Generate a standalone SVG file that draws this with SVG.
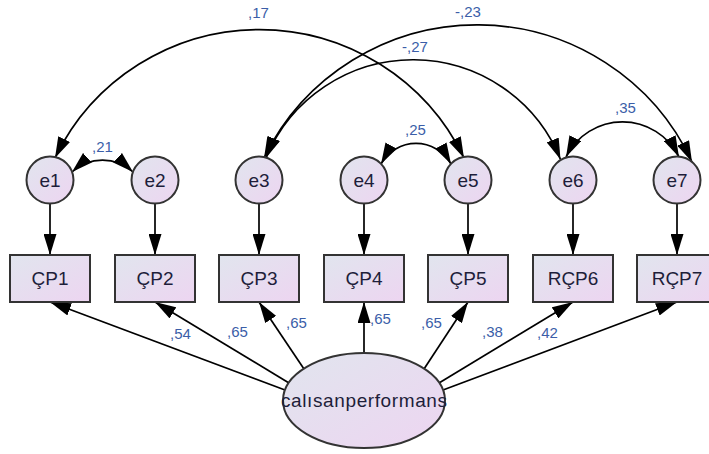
<svg xmlns="http://www.w3.org/2000/svg" width="709" height="454" viewBox="0 0 709 454">
  <defs>
    <linearGradient id="fillGrad" x1="0" y1="0" x2="1" y2="1">
      <stop offset="0" stop-color="#e1e5ee"/>
      <stop offset="1" stop-color="#edd5f1"/>
    </linearGradient>
    <marker id="head" viewBox="0 0 21 13" refX="21" refY="6.5" markerWidth="21" markerHeight="13" markerUnits="userSpaceOnUse" orient="auto-start-reverse">
      <path d="M0,0 L21,6.5 L0,13 z" fill="#000"/>
    </marker>
    <style>
      .node { fill: url(#fillGrad); stroke: #333; stroke-width: 2; }
      .label { font-family: "Liberation Sans", Arial, sans-serif; font-size: 19px; fill: #1e1e3a; text-anchor: middle; }
      .coef { font-family: "Liberation Sans", Arial, sans-serif; font-size: 15px; fill: #3b5ea8; }
      .path { fill: none; stroke: #000; stroke-width: 1.7; marker-end: url(#head); }
      .cov { fill: none; stroke: #000; stroke-width: 1.7; marker-start: url(#head); marker-end: url(#head); }
    </style>
  </defs>

  <!-- connectors -->
  <g id="connectors">
    <!-- error terms to indicators -->
    <line class="path" x1="50" y1="203.5" x2="50" y2="255"/>
    <line class="path" x1="155" y1="203.5" x2="155" y2="255"/>
    <line class="path" x1="259" y1="203.5" x2="259" y2="255"/>
    <line class="path" x1="364" y1="203.5" x2="364" y2="255"/>
    <line class="path" x1="468" y1="203.5" x2="468" y2="255"/>
    <line class="path" x1="573" y1="203.5" x2="573" y2="255"/>
    <line class="path" x1="677" y1="203.5" x2="677" y2="255"/>

    <!-- latent factor loadings -->
    <line class="path" x1="285" y1="390" x2="50" y2="302"/>
    <line class="path" x1="289" y1="383" x2="155" y2="302"/>
    <line class="path" x1="304" y1="369" x2="259" y2="302"/>
    <line class="path" x1="364" y1="353" x2="364" y2="302"/>
    <line class="path" x1="424" y1="369" x2="468" y2="302"/>
    <line class="path" x1="439" y1="383" x2="573" y2="302"/>
    <line class="path" x1="443" y1="390" x2="677" y2="302"/>

    <!-- error covariances -->
    <path class="cov" d="M55,158 A227,227 0 0 1 464,158"/>
    <path class="cov" d="M264,158 A237,237 0 0 1 692,162"/>
    <path class="cov" d="M266,158 A159,159 0 0 1 560.5,159.5"/>
    <path class="cov" d="M72,172 A45,45 0 0 1 133,172"/>
    <path class="cov" d="M381,164 A40,40 0 0 1 451,164"/>
    <path class="cov" d="M566,157 A63,63 0 0 1 679,157"/>

    <!-- coefficients -->
    <text class="coef" x="248" y="18">,17</text>
    <text class="coef" x="455" y="17">-,23</text>
    <text class="coef" x="402" y="52">-,27</text>
    <text class="coef" x="92" y="152">,21</text>
    <text class="coef" x="405" y="135">,25</text>
    <text class="coef" x="615" y="113">,35</text>
    <text class="coef" x="170" y="339">,54</text>
    <text class="coef" x="227" y="337">,65</text>
    <text class="coef" x="286" y="328">,65</text>
    <text class="coef" x="370" y="324">,65</text>
    <text class="coef" x="421" y="328">,65</text>
    <text class="coef" x="482" y="337">,38</text>
    <text class="coef" x="537" y="338">,42</text>
  </g>

  <!-- error terms -->
  <g id="e1"><circle class="node" cx="50" cy="180" r="23.5"/><text class="label" x="50" y="187">e1</text></g>
  <g id="e2"><circle class="node" cx="155" cy="180" r="23.5"/><text class="label" x="155" y="187">e2</text></g>
  <g id="e3"><circle class="node" cx="259" cy="180" r="23.5"/><text class="label" x="259" y="187">e3</text></g>
  <g id="e4"><circle class="node" cx="364" cy="180" r="23.5"/><text class="label" x="364" y="187">e4</text></g>
  <g id="e5"><circle class="node" cx="468" cy="180" r="23.5"/><text class="label" x="468" y="187">e5</text></g>
  <g id="e6"><circle class="node" cx="573" cy="180" r="23.5"/><text class="label" x="573" y="187">e6</text></g>
  <g id="e7"><circle class="node" cx="677" cy="180" r="23.5"/><text class="label" x="677" y="187">e7</text></g>

  <!-- observed indicators -->
  <g id="CP1"><rect class="node" x="10" y="255" width="80" height="47"/><text class="label" x="50" y="285">ÇP1</text></g>
  <g id="CP2"><rect class="node" x="115" y="255" width="80" height="47"/><text class="label" x="155" y="285">ÇP2</text></g>
  <g id="CP3"><rect class="node" x="219" y="255" width="80" height="47"/><text class="label" x="259" y="285">ÇP3</text></g>
  <g id="CP4"><rect class="node" x="324" y="255" width="80" height="47"/><text class="label" x="364" y="285">ÇP4</text></g>
  <g id="CP5"><rect class="node" x="428" y="255" width="80" height="47"/><text class="label" x="468" y="285">ÇP5</text></g>
  <g id="RCP6"><rect class="node" x="533" y="255" width="80" height="47"/><text class="label" x="573" y="285">RÇP6</text></g>
  <g id="RCP7"><rect class="node" x="637" y="255" width="80" height="47"/><text class="label" x="677" y="285">RÇP7</text></g>

  <!-- latent factor -->
  <g id="calisanperformans"><ellipse class="node" cx="364" cy="400.5" rx="81" ry="47.5"/><text class="label" x="364" y="407" textLength="166" lengthAdjust="spacing">calısanperformans</text></g>
</svg>
